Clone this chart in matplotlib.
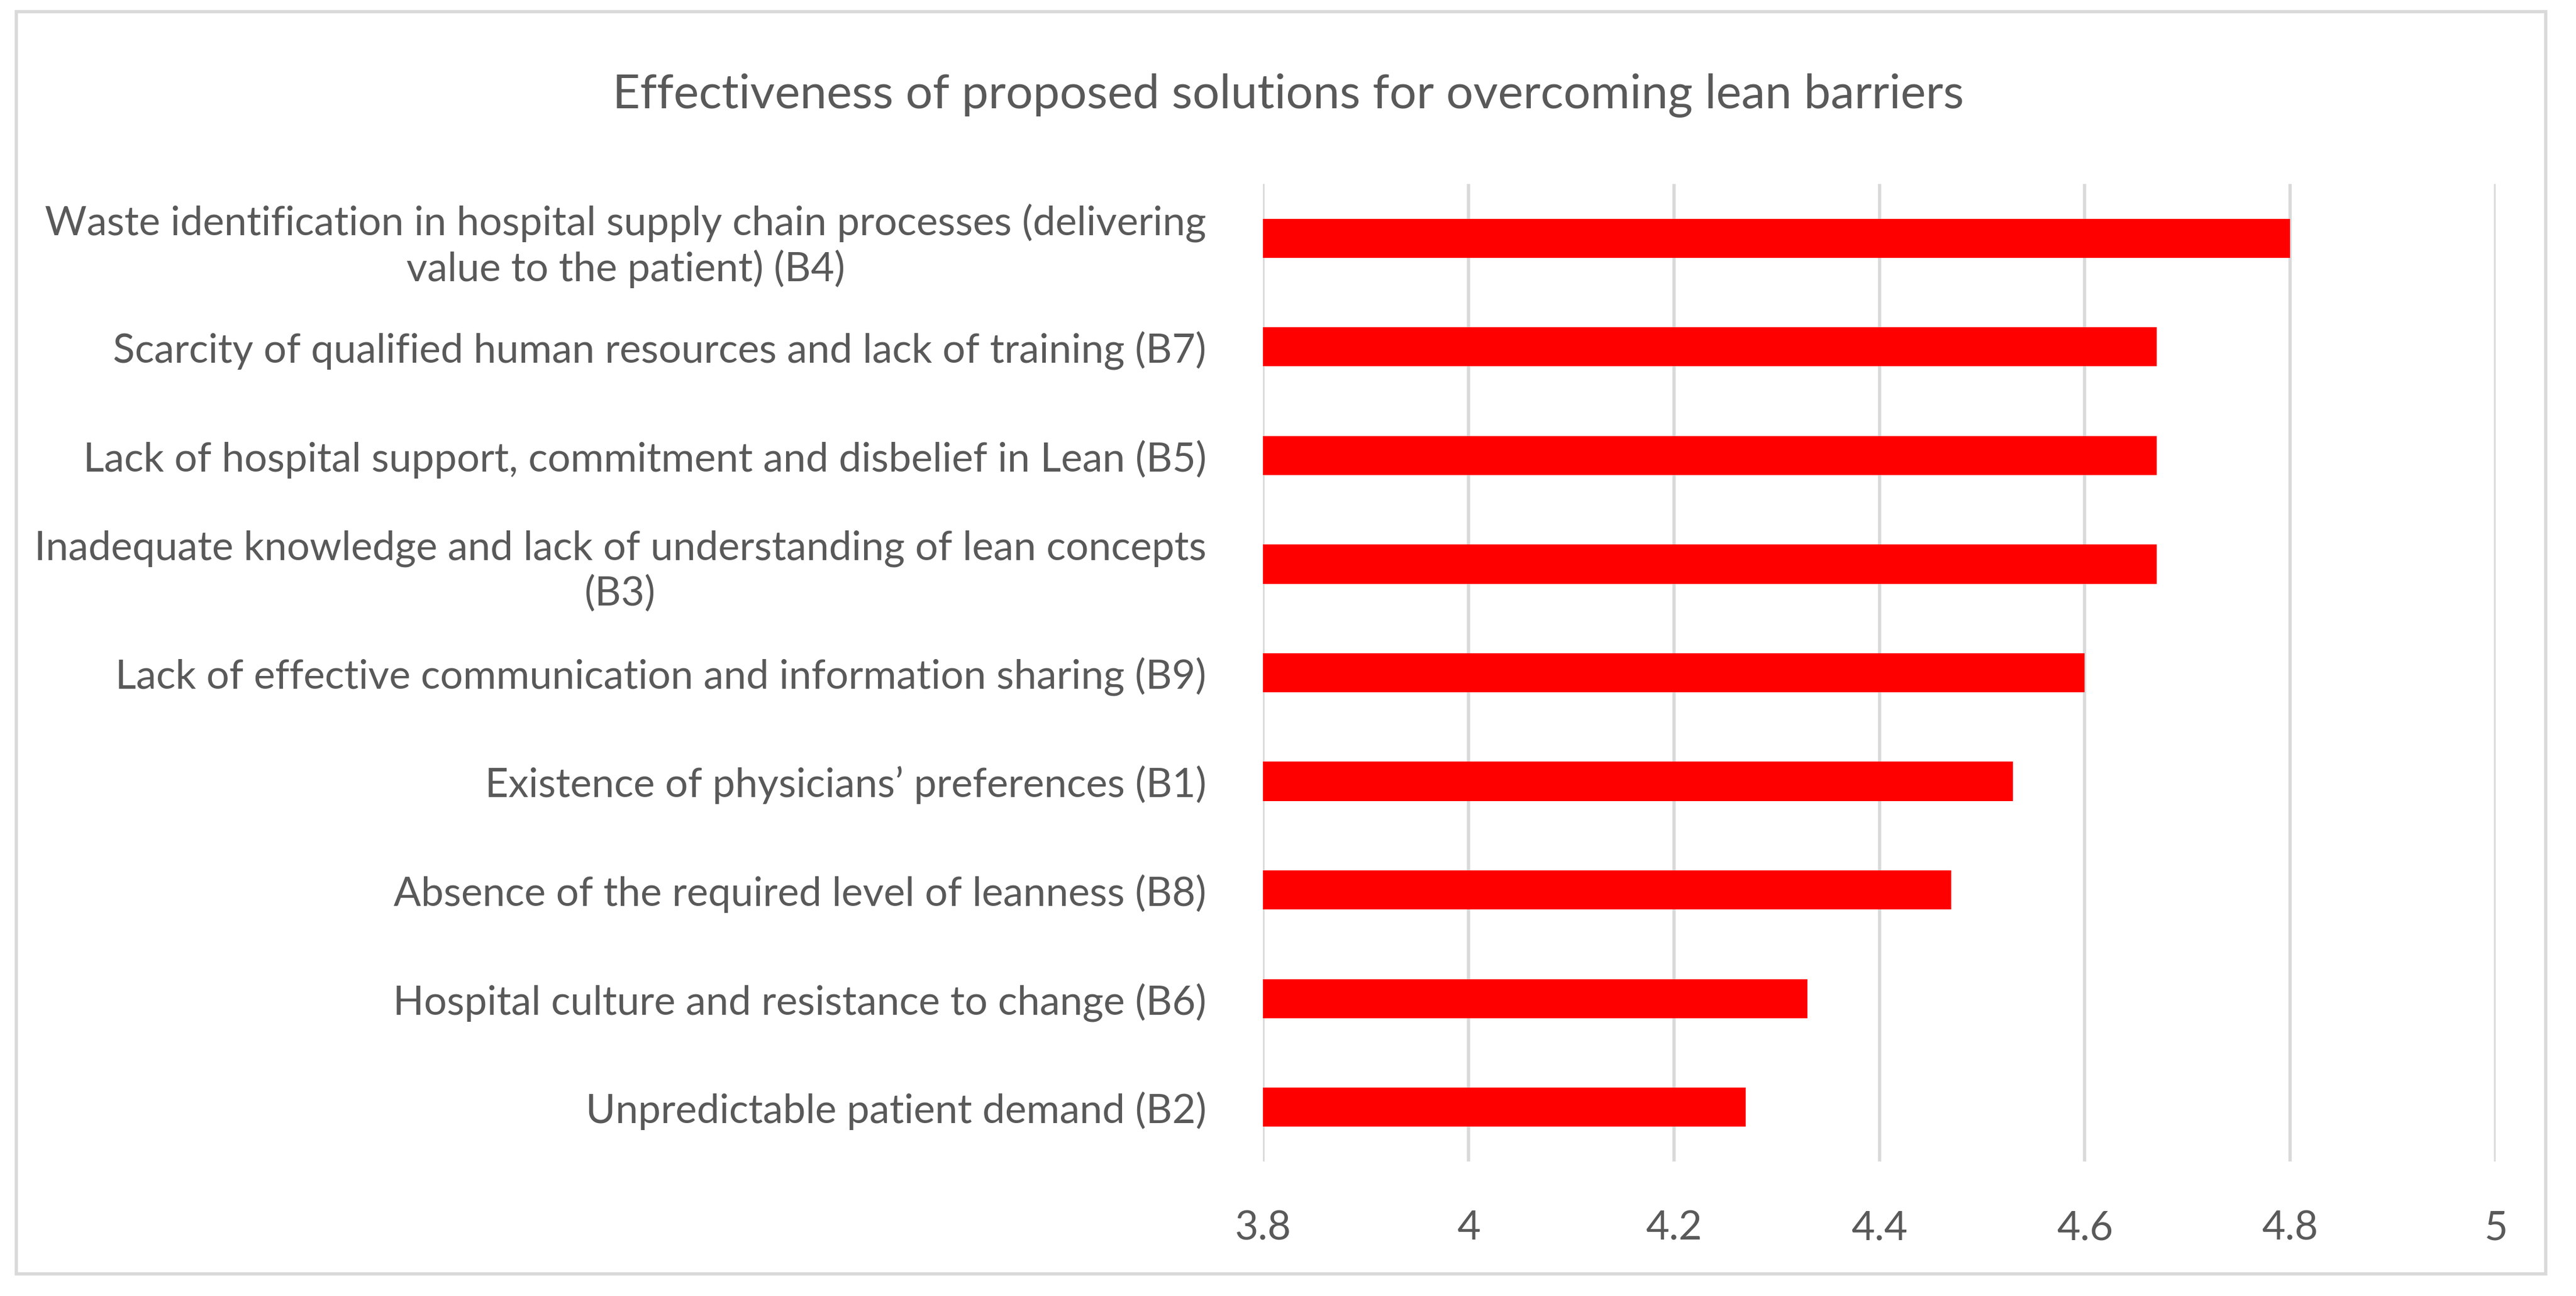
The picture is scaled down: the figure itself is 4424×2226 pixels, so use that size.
import matplotlib.pyplot as plt
from matplotlib.patches import Rectangle

labels = [
    "Waste identification in hospital supply chain processes (delivering\nvalue to the patient) (B4)",
    "Scarcity of qualified human resources and lack of training (B7)",
    "Lack of hospital support, commitment and disbelief in Lean (B5)",
    "Inadequate knowledge and lack of understanding of lean concepts\n(B3)",
    "Lack of effective communication and information sharing (B9)",
    "Existence of physicians\u2019 preferences (B1)",
    "Absence of the required level of leanness (B8)",
    "Hospital culture and resistance to change (B6)",
    "Unpredictable patient demand (B2)",
]
values = [4.8, 4.67, 4.67, 4.67, 4.6, 4.53, 4.47, 4.33, 4.27]
ticks = [3.8, 4, 4.2, 4.4, 4.6, 4.8, 5]
tick_labels = ["3.8", "4", "4.2", "4.4", "4.6", "4.8", "5"]

plt.rcParams["font.family"] = "Lato"
txt = "#595959"

fig = plt.figure(figsize=(44.24, 22.26), dpi=100)
fig.patches.append(Rectangle((28 / 4424, 1 - 2188 / 2226), (4372 - 28) / 4424, (2188 - 20) / 2226,
                             transform=fig.transFigure, fill=False, edgecolor="#D9D9D9", linewidth=4))
ax = fig.add_axes([2169 / 4424, 1 - 1995 / 2226, (4286 - 2169) / 4424, (1995 - 316) / 2226])

y = list(range(len(labels)))
ax.barh(y, [v - 3.8 for v in values], left=3.8, height=0.36, color="#FF0000", zorder=3)
ax.set_ylim(len(labels) - 0.5, -0.5)
ax.set_xlim(3.8, 5)
ax.set_xticks(ticks)
ax.set_xticklabels(tick_labels, fontsize=50, color=txt)
ax.set_yticks(y)
ax.set_yticklabels(labels, fontsize=50, color=txt, linespacing=1.25, multialignment="center")
ax.tick_params(length=0, pad=60)
ax.tick_params(axis="y", pad=70)
ax.grid(axis="x", color="#D9D9D9", linewidth=4, zorder=0)
for s in ax.spines.values():
    s.set_visible(False)

fig.text(0.5, 1 - 164 / 2226, "Effectiveness of proposed solutions for overcoming lean barriers",
         ha="center", va="center", fontsize=59, color=txt)

fig.savefig("out.png", dpi=100)
